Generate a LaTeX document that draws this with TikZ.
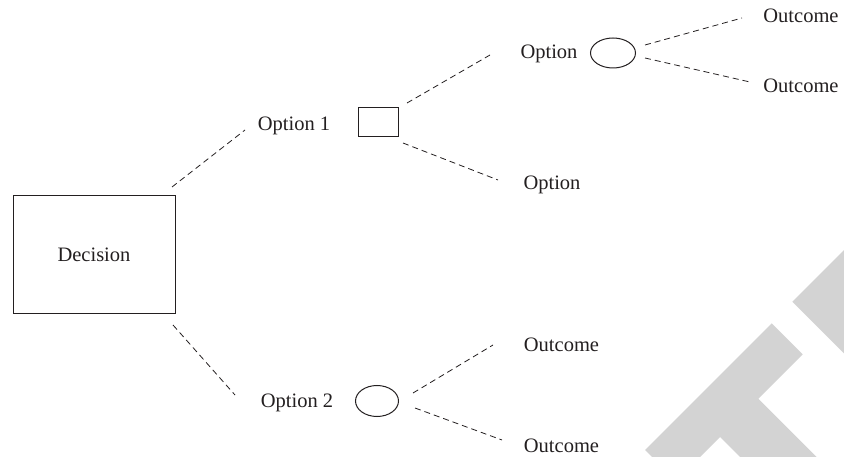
\documentclass[tikz,border=0pt]{standalone}
\usepackage{fontspec}
\setmainfont{Liberation Serif}
\usetikzlibrary{shapes.geometric}
\definecolor{ink}{HTML}{231F20}
\definecolor{wmgray}{HTML}{D3D3D3}
\begin{document}
\begin{tikzpicture}[x=1pt,y=-1pt,
  lbl/.style={font=\fontsize{20.5}{24}\selectfont, text=ink, inner sep=0pt, anchor=base},
  conn/.style={draw=ink, line width=0.8pt, dash pattern=on 6pt off 4pt},
  boxnode/.style={draw=ink, line width=1pt, rectangle, inner sep=0pt},
  chance/.style={draw=ink, line width=1pt, ellipse, inner sep=0pt},
]
\useasboundingbox (0,0) rectangle (844,457);

% light background mark in the lower right corner
\begin{scope}
  \clip (0,0) rectangle (844,457);
  \fill[wmgray] (652,457) -- (645,450) -- (771.7,323.3) -- (802.7,354.3)
    -- (758.3,398.7) -- (816.6,457) -- (740,457) -- (720,437) -- (700,457) -- cycle;
  \fill[wmgray] (792.3,301.7) -- (844,250) -- (844,353.4) -- cycle;
\end{scope}

% decision and chance nodes
\node[boxnode, minimum width=162pt, minimum height=118pt,
      font=\fontsize{20.5}{24}\selectfont, text=ink] (decision) at (94,255) {Decision};
\node[boxnode, minimum width=40pt, minimum height=29pt] (sq) at (378,122.5) {};
\node[chance, minimum width=45pt, minimum height=30pt] (chanceA) at (613,53) {};
\node[chance, minimum width=43pt, minimum height=31pt] (chanceB) at (377,401) {};

% labels
\node[lbl] (opt1) at (294,131) {Option 1};
\node[lbl] (optA) at (549,59) {Option};
\node[lbl] (outA) at (801,23) {Outcome};
\node[lbl] (outB) at (801,93) {Outcome};
\node[lbl] (optB) at (552,190) {Option};
\node[lbl] (opt2) at (297,407) {Option 2};
\node[lbl] (outC) at (561.5,351) {Outcome};
\node[lbl] (outD) at (561.5,452) {Outcome};

% connector end points
\coordinate (d1s) at (172,187);   \coordinate (d1e) at (245,130);
\coordinate (s1s) at (407,103);   \coordinate (s1e) at (490,55);
\coordinate (s2s) at (403,143);   \coordinate (s2e) at (498,180);
\coordinate (a1s) at (645,45);    \coordinate (a1e) at (742,18);
\coordinate (a2s) at (645,58);    \coordinate (a2e) at (750,82);
\coordinate (d2s) at (173,325);   \coordinate (d2e) at (235,395);
\coordinate (b1s) at (413,393);   \coordinate (b1e) at (493,345);
\coordinate (b2s) at (415,408);   \coordinate (b2e) at (502,440);

% branches
\draw[conn] (d1s) -- (d1e);
\draw[conn] (s1s) -- (s1e);
\draw[conn] (s2s) -- (s2e);
\draw[conn] (a1s) -- (a1e);
\draw[conn] (a2s) -- (a2e);
\draw[conn] (d2s) -- (d2e);
\draw[conn] (b1s) -- (b1e);
\draw[conn] (b2s) -- (b2e);
\end{tikzpicture}
\end{document}
